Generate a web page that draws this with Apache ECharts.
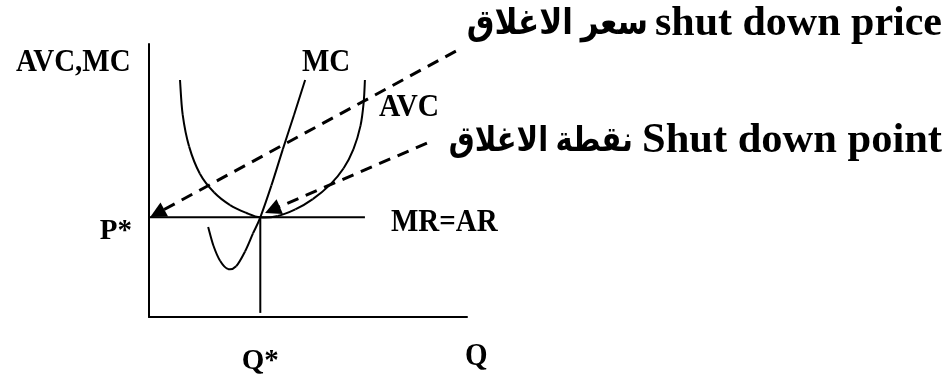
<!DOCTYPE html>
<html>
<head>
<meta charset="utf-8">
<script src="https://cdn.jsdelivr.net/npm/echarts@6/dist/echarts.min.js"></script>
<style>
  html, body { margin: 0; padding: 0; background: #fff; }
  #chart { width: 951px; height: 379px; }
</style>
</head>
<body>
<div id="chart"></div>
<script>
// Shut-down condition of a competitive firm: AVC and MC against quantity.
// Quantity and price are on an arbitrary 0-100 scale.

const priceLevel = 36.5;      // P*  (MR = AR = minimum AVC)
const shutQty = 35;           // Q*

// Average variable cost, U-shaped, minimum at (Q*, P*)
const avcCurve = [
  [9.75, 86.8], [10.6, 74.0], [12.6, 62.5], [16.0, 52.5], [20.5, 45.6],
  [25.5, 41.0], [30.5, 38.2], [35, 36.5], [40.5, 37.0], [46.0, 39.4],
  [51.5, 43.2], [56.9, 48.4], [61.2, 54.5], [64.3, 61.5], [66.5, 70.0],
  [67.5, 78.5], [67.9, 86.8]
];

// Marginal cost, dips then rises through the AVC minimum
const mcCurve = [
  [18.6, 33.0], [20.3, 26.0], [22.4, 20.5], [24.8, 17.6], [27.4, 18.6],
  [30.2, 24.0], [32.7, 30.6], [35, 36.5], [38.5, 48.2], [42.1, 61.5],
  [45.6, 74.0], [49.1, 86.8]
];

// Horizontal demand line MR = AR, and the drop line at Q*
const mrLine = [[-1.3, priceLevel], [67.9, priceLevel]];
const qDrop = [[shutQty, priceLevel], [shutQty, 1.5]];

// Callout arrows: from the captions down to P* and to the shut-down point
const priceArrow = [[96.5, 97.4], [2.6, 38.0]];
const pointArrow = [[87.4, 63.7], [38.8, 39.3]];

// Tick labels
const yTickLabels = ['P*'];
const xTickLabels = ['Q*'];

const serif = '"Liberation Serif", "DejaVu Sans", serif';
const lab = (text, x, y, size, align, sy) => ({
  type: 'text', x: x, y: y, scaleY: sy || 1,
  style: {
    text: text, font: 'bold ' + size + 'px ' + serif, fill: '#000',
    textAlign: align || 'left', textVerticalAlign: 'middle'
  }
});

// A curve through the given points (Catmull-Rom spline as cubic Beziers),
// positioned by the cartesian axes.
function curveSeries(points) {
  return {
    type: 'custom', coordinateSystem: 'cartesian2d', data: points,
    clip: false, silent: true,
    renderItem: function (params, api) {
      if (params.dataIndex !== 0) return null;
      const p = points.map(function (d) { return api.coord(d); });
      const n = p.length;
      const segs = [];
      for (let i = 0; i < n - 1; i++) {
        const p0 = p[Math.max(i - 1, 0)], p1 = p[i], p2 = p[i + 1], p3 = p[Math.min(i + 2, n - 1)];
        segs.push({
          type: 'bezierCurve',
          shape: {
            x1: p1[0], y1: p1[1], x2: p2[0], y2: p2[1],
            cpx1: p1[0] + (p2[0] - p0[0]) / 6, cpy1: p1[1] + (p2[1] - p0[1]) / 6,
            cpx2: p2[0] - (p3[0] - p1[0]) / 6, cpy2: p2[1] - (p3[1] - p1[1]) / 6
          },
          style: { stroke: '#000', lineWidth: 2, fill: null }
        });
      }
      return { type: 'group', children: segs };
    }
  };
}

const chart = echarts.init(document.getElementById('chart'), null, { renderer: 'canvas' });

chart.setOption({
  animation: false,
  backgroundColor: '#fff',
  grid: { left: 149, right: 484, top: 44, bottom: 62 },
  xAxis: {
    type: 'value', min: 0, max: 100,
    splitLine: { show: false },
    axisLine: { show: true, onZero: false, lineStyle: { color: '#000', width: 2 } },
    axisTick: { show: false },
    axisLabel: {
      customValues: [shutQty],
      formatter: () => xTickLabels[0],
      margin: 30, color: '#000', fontWeight: 'bold', fontSize: 29,
      fontFamily: serif
    }
  },
  yAxis: {
    type: 'value', min: 0, max: 100,
    splitLine: { show: false },
    axisLine: { show: true, onZero: false, lineStyle: { color: '#000', width: 2 } },
    axisTick: { show: false },
    axisLabel: {
      customValues: [priceLevel],
      formatter: () => yTickLabels[0],
      margin: 17, color: '#000', fontWeight: 'bold', fontSize: 29,
      fontFamily: serif, verticalAlign: 'top'
    }
  },
  series: [
    curveSeries(avcCurve),
    curveSeries(mcCurve),
    {
      type: 'line', data: mrLine, symbol: 'none', clip: false,
      lineStyle: { color: '#000', width: 2 }
    },
    {
      type: 'line', data: qDrop, symbol: 'none', clip: false,
      lineStyle: { color: '#000', width: 2 }
    },
    {
      type: 'lines', coordinateSystem: 'cartesian2d', clip: false,
      symbol: ['none', 'triangle'], symbolSize: 16,
      lineStyle: { color: '#000', width: 3, type: [12, 8], opacity: 1 },
      data: [{ coords: priceArrow }, { coords: pointArrow }]
    }
  ],
  graphic: [
    lab('AVC,MC', 16, 62.5, 29, 'left', 1.1),
    lab('MC', 302, 62.5, 29, 'left', 1.1),
    lab('AVC', 379, 108, 29.5, 'left', 1.1),
    lab('MR=AR', 391, 222.5, 29, 'left', 1.12),
    lab('Q', 465, 357, 29, 'left', 1.12),
    lab('shut down price', 942, 24, 42, 'right'),
    lab('سعر الاغلاق', 648, 25, 31, 'right', 1.15),
    lab('Shut down point', 942, 141, 42.5, 'right'),
    lab('نقطة الاغلاق', 633, 142, 29, 'right', 1.2)
  ]
});
</script>
</body>
</html>
